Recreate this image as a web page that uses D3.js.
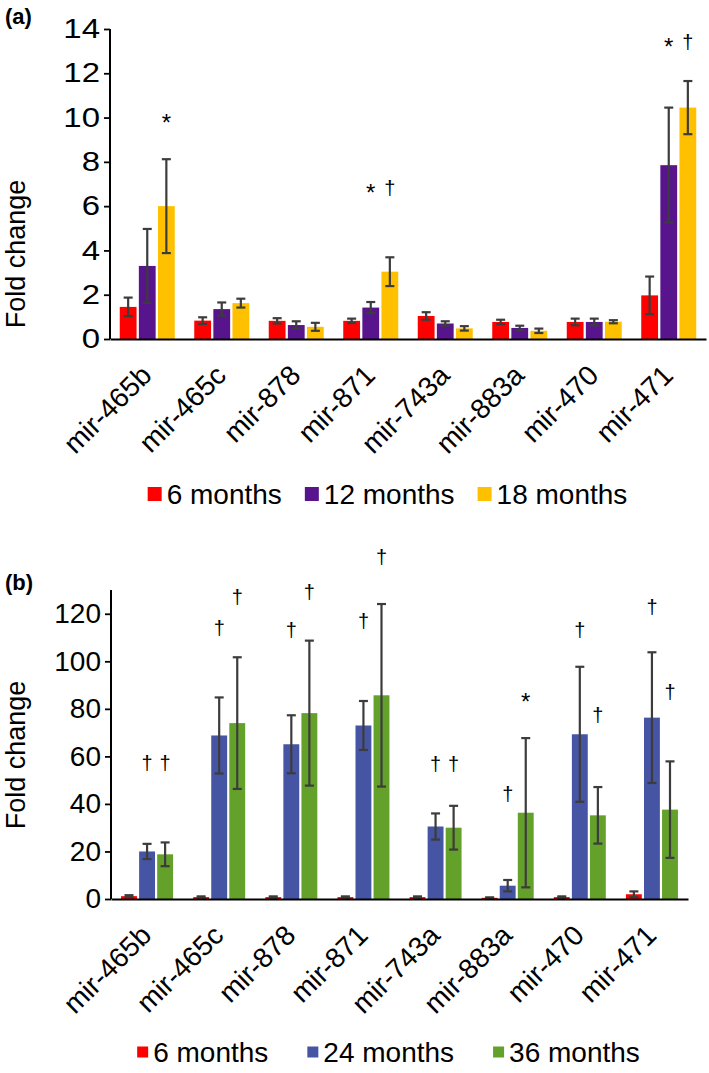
<!DOCTYPE html>
<html><head><meta charset="utf-8">
<script src="https://cdn.jsdelivr.net/npm/d3@7"></script>
<style>body{margin:0;background:#fff} text{font-family:"Liberation Sans",Arial,sans-serif;fill:#000}</style>
</head><body><svg id="c" width="709" height="1073" style="background:#fff"></svg>
<script>
const categories = ["mir-465b","mir-465c","mir-878","mir-871","mir-743a","mir-883a","mir-470","mir-471"];

// Panel (a)
const seriesA = ["6 months","12 months","18 months"];
const colorsA = ["#ff0000","#58148c","#ffc000"];
const a6     = [1.45,0.83,0.82,0.82,1.04,0.77,0.77,1.97];
const a6err  = [0.42,0.15,0.12,0.10,0.17,0.10,0.15,0.85];
const a12    = [3.30,1.35,0.63,1.42,0.70,0.50,0.77,7.85];
const a12err = [1.67,0.30,0.17,0.25,0.10,0.10,0.15,2.60];
const a18    = [6.00,1.62,0.55,3.04,0.48,0.37,0.78,10.45];
const a18err = [2.12,0.20,0.18,0.65,0.10,0.10,0.07,1.20];
const ticksA = [0,2,4,6,8,10,12,14];
const marksA = [
  {cat:"mir-465b", s:2, sym:"*", at:10.0},
  {cat:"mir-871",  s:1, sym:"*", at:6.8},
  {cat:"mir-871",  s:2, sym:"†", at:6.8},
  {cat:"mir-471",  s:1, sym:"*", at:13.4},
  {cat:"mir-471",  s:2, sym:"†", at:13.4}
];

// Panel (b)
const seriesB = ["6 months","24 months","36 months"];
const colorsB = ["#ff0000","#4654a4","#64a12b"];
const b6     = [1.2,0.8,0.8,0.8,0.8,0.5,0.8,2.0];
const b6err  = [0.4,0.3,0.3,0.3,0.3,0.2,0.3,1.2];
const b24    = [20.0,68.8,65.1,73.0,30.5,5.6,69.3,76.3];
const b24err = [3.2,16.0,12.2,10.3,5.5,2.4,28.4,27.5];
const b36    = [18.8,74.0,78.2,85.7,30.0,36.3,35.2,37.6];
const b36err = [5.0,27.7,30.5,38.4,9.2,31.4,11.9,20.3];
const ticksB = [0,20,40,60,80,100,120];
const marksB = [
  {cat:"mir-465b", s:1, sym:"†", at:57.3},
  {cat:"mir-465b", s:2, sym:"†", at:57.3},
  {cat:"mir-465c", s:1, sym:"†", at:114},
  {cat:"mir-465c", s:2, sym:"†", at:127},
  {cat:"mir-878",  s:1, sym:"†", at:113},
  {cat:"mir-878",  s:2, sym:"†", at:129},
  {cat:"mir-871",  s:1, sym:"†", at:117},
  {cat:"mir-871",  s:2, sym:"†", at:143.7},
  {cat:"mir-743a", s:1, sym:"†", at:57},
  {cat:"mir-743a", s:2, sym:"†", at:57},
  {cat:"mir-883a", s:1, sym:"†", at:44},
  {cat:"mir-883a", s:2, sym:"*", at:85},
  {cat:"mir-470",  s:1, sym:"†", at:113},
  {cat:"mir-470",  s:2, sym:"†", at:77.5},
  {cat:"mir-471",  s:1, sym:"†", at:123},
  {cat:"mir-471",  s:2, sym:"†", at:87}
];

const svg = d3.select("#c");

function panel(cfg){
  const g = svg.append("g");
  const x = d3.scaleBand().domain(categories).range([cfg.x0, cfg.x1]).padding(0);
  const xi = d3.scaleBand().domain(d3.range(3)).range([-cfg.half, cfg.half]).paddingInner(cfg.pin);
  const y = d3.scaleLinear().domain([0, cfg.ymax]).range([cfg.y0, cfg.yTop]);

  const rows = [];
  cfg.vals.forEach((arr, s) => arr.forEach((v, i) => rows.push({cat:categories[i], s, v, e:cfg.errs[s][i]})));

  g.selectAll("rect.bar").data(rows).join("rect")
    .attr("x", d => x(d.cat) + x.bandwidth()/2 + xi(d.s))
    .attr("width", xi.bandwidth())
    .attr("y", d => y(d.v))
    .attr("height", d => y(0) - y(d.v))
    .attr("fill", d => cfg.colors[d.s]);

  const eb = g.selectAll("g.err").data(rows).join("g")
    .attr("transform", d => `translate(${x(d.cat) + x.bandwidth()/2 + xi(d.s) + xi.bandwidth()/2},0)`)
    .attr("stroke", "#3c3c3c").attr("stroke-width", 2.2);
  eb.append("line").attr("y1", d => y(d.v + d.e)).attr("y2", d => y(Math.max(0, d.v - d.e)));
  eb.append("line").attr("x1", -4.5).attr("x2", 4.5).attr("y1", d => y(d.v + d.e)).attr("y2", d => y(d.v + d.e));
  eb.append("line").attr("x1", -4.5).attr("x2", 4.5).attr("y1", d => y(Math.max(0, d.v - d.e))).attr("y2", d => y(Math.max(0, d.v - d.e)));

  // y axis
  const ya = g.append("g").attr("transform", `translate(${cfg.x0},0)`)
    .call(d3.axisLeft(y).tickValues(cfg.ticks).tickSize(6).tickSizeOuter(0).tickPadding(4));
  ya.select(".domain").remove();
  ya.append("line").attr("x1",0).attr("x2",0).attr("y1",cfg.y0).attr("y2",cfg.yTop).attr("stroke","#000").attr("stroke-width",2);
  ya.selectAll(".tick line").attr("stroke","#000").attr("stroke-width",1.8);
  ya.selectAll(".tick text").attr("font-size", cfg.tickFs).attr("fill","#000")
    .attr("font-family","Liberation Sans, Arial, sans-serif")
    .attr("x", -10 / cfg.tickSx)
    .attr("transform", `scale(${cfg.tickSx},1)`);

  // x axis
  const xa = g.append("g").attr("transform", `translate(0,${cfg.y0})`)
    .call(d3.axisBottom(x).tickSize(0).tickSizeOuter(0));
  xa.select(".domain").attr("stroke","#000").attr("stroke-width",2.2);
  xa.selectAll(".tick text")
    .attr("font-size", 28).attr("fill","#000")
    .attr("font-family","Liberation Sans, Arial, sans-serif")
    .attr("text-anchor","end")
    .attr("dy", 0)
    .attr("y", 0)
    .attr("transform", `translate(6,${cfg.labOff}) rotate(-45)`);

  // axis title
  g.append("text").attr("transform", `translate(${cfg.titleX},${cfg.titleY}) rotate(-90)`)
    .attr("text-anchor","middle").attr("font-size",27).text("Fold change");

  // panel label
  g.append("text").attr("x", 5).attr("y", cfg.labelY).attr("font-size", 22).attr("font-weight","bold").text(cfg.label);

  // significance marks
  g.selectAll("text.mark").data(cfg.marks).join("text")
    .attr("class","mark")
    .attr("x", d => x(d.cat) + x.bandwidth()/2 + xi(d.s) + xi.bandwidth()/2)
    .attr("y", d => y(d.at) + (d.sym === "*" ? 13 : 7))
    .attr("text-anchor","middle")
    .attr("font-size", d => d.sym === "*" ? 24 : 20)
    .text(d => d.sym);

  // legend
  const lg = g.append("g");
  let cx = 0;
  cfg.series.forEach((name, s) => {
    const it = lg.append("g").attr("transform", `translate(${cx},0)`);
    it.append("rect").attr("x",0).attr("y",-cfg.sq/2).attr("width",cfg.sq).attr("height",cfg.sq).attr("fill",cfg.colors[s]);
    const t = it.append("text").attr("x", cfg.sq + 5).attr("y", 10).attr("font-size", 28).text(name);
    cx += cfg.sq + 5 + t.node().getComputedTextLength() + cfg.gap;
  });
  const w = cx - cfg.gap;
  lg.attr("transform", `translate(${cfg.legCx - w/2},${cfg.legY})`);
}

panel({x0:110, x1:706, y0:339, yTop:29, ymax:14, half:27.5, pin:0.12,
  vals:[a6,a12,a18], errs:[a6err,a12err,a18err], colors:colorsA, series:seriesA,
  ticks:ticksA, marks:marksA, titleX:25, titleY:254, label:"(a)", labelY:24,
  legCx:387.5, legY:494, sq:14, gap:23, tickFs:27, tickSx:1.22, labOff:38});

panel({x0:111, x1:688, y0:899, yTop:590, ymax:130, half:26, pin:0.12,
  vals:[b6,b24,b36], errs:[b6err,b24err,b36err], colors:colorsB, series:seriesB,
  ticks:ticksB, marks:marksB, titleX:25, titleY:755, label:"(b)", labelY:590,
  legCx:388.5, legY:1052, sq:11, gap:39, tickFs:28, tickSx:1.0, labOff:38});
</script></body></html>
